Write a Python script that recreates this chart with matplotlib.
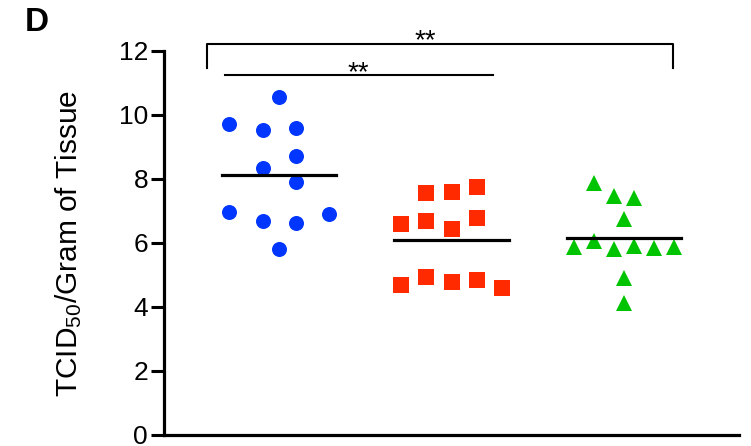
import numpy as np
import matplotlib
matplotlib.use("Agg")
import matplotlib.pyplot as plt

plt.rcParams['font.family'] = ['Liberation Sans', 'DejaVu Sans']
plt.rcParams['mathtext.default'] = 'regular'

# TCID50 per gram of tissue, one value per animal
blue = [10.57, 9.71, 9.52, 9.58, 8.73, 8.33, 7.90, 6.96, 6.68, 6.64, 6.90, 5.80]
red = [7.57, 7.59, 7.75, 6.59, 6.69, 6.44, 6.78, 4.69, 4.94, 4.78, 4.84, 4.59]
green = [7.87, 7.47, 7.42, 6.74, 5.89, 6.06, 5.80, 5.92, 5.85, 5.86, 4.92, 4.14]

# horizontal scatter offsets (layout only)
blue_dx = [0, -0.29, -0.095, 0.1, 0.1, -0.095, 0.1, -0.29, -0.095, 0.1, 0.29, 0]
red_dx = [-0.145, 0, 0.145, -0.29, -0.145, 0, 0.145, -0.29, -0.145, 0, 0.145, 0.29]
green_dx = [-0.172, -0.058, 0.058, 0, -0.288, -0.172, -0.058, 0.058, 0.172, 0.288, 0, 0]

yticks = [0, 2, 4, 6, 8, 10, 12]

fig = plt.figure(figsize=(7.51, 4.46), dpi=100)
ax = fig.add_axes([0.2184, 0.0247, 0.7656, 0.861])

groups = [
    (blue, blue_dx, 'o', '#0036ff', 10.8),
    (red, red_dx, 's', '#ff2a00', 11.5),
    (green, green_dx, '^', '#00c400', 11.0),
]
for i, (vals, dx, mk, col, ms) in enumerate(groups):
    x = i + 1 + np.array(dx)
    ax.plot(x, vals, linestyle='none', marker=mk, color=col,
            markersize=ms, markeredgewidth=0, zorder=2, clip_on=False)
    m = np.mean(vals)
    ax.plot([i + 1 - 0.333, i + 1 + 0.333], [m, m], color='black', lw=2.3, zorder=3)

# significance brackets
ax.plot([0.583, 0.583, 3.284, 3.284], [11.47, 12.22, 12.22, 11.47],
        color='black', lw=1.5, clip_on=False)
ax.text(1.846, 12.09, '**', ha='center', va='baseline', fontsize=20)
ax.plot([0.687, 2.24], [11.25, 11.25], color='black', lw=1.5, clip_on=False)
ax.text(1.46, 11.09, '**', ha='center', va='baseline', fontsize=20)

ax.set_xlim(0.333, 3.667)
ax.set_ylim(0, 12)
ax.set_yticks(yticks)
ax.set_xticks([])
ax.tick_params(axis='y', labelsize=19, width=2.2, length=9.5, pad=2)
for s in ['top', 'right']:
    ax.spines[s].set_visible(False)
for s in ['left', 'bottom']:
    ax.spines[s].set_linewidth(2.3)

ax.set_ylabel(r'$TCID_{50}$/Gram of Tissue', fontsize=21.5, labelpad=25)

fig.text(0.049, 0.95, 'D', fontsize=24, fontweight='bold', ha='center', va='center')

fig.savefig('out.png', dpi=100)
